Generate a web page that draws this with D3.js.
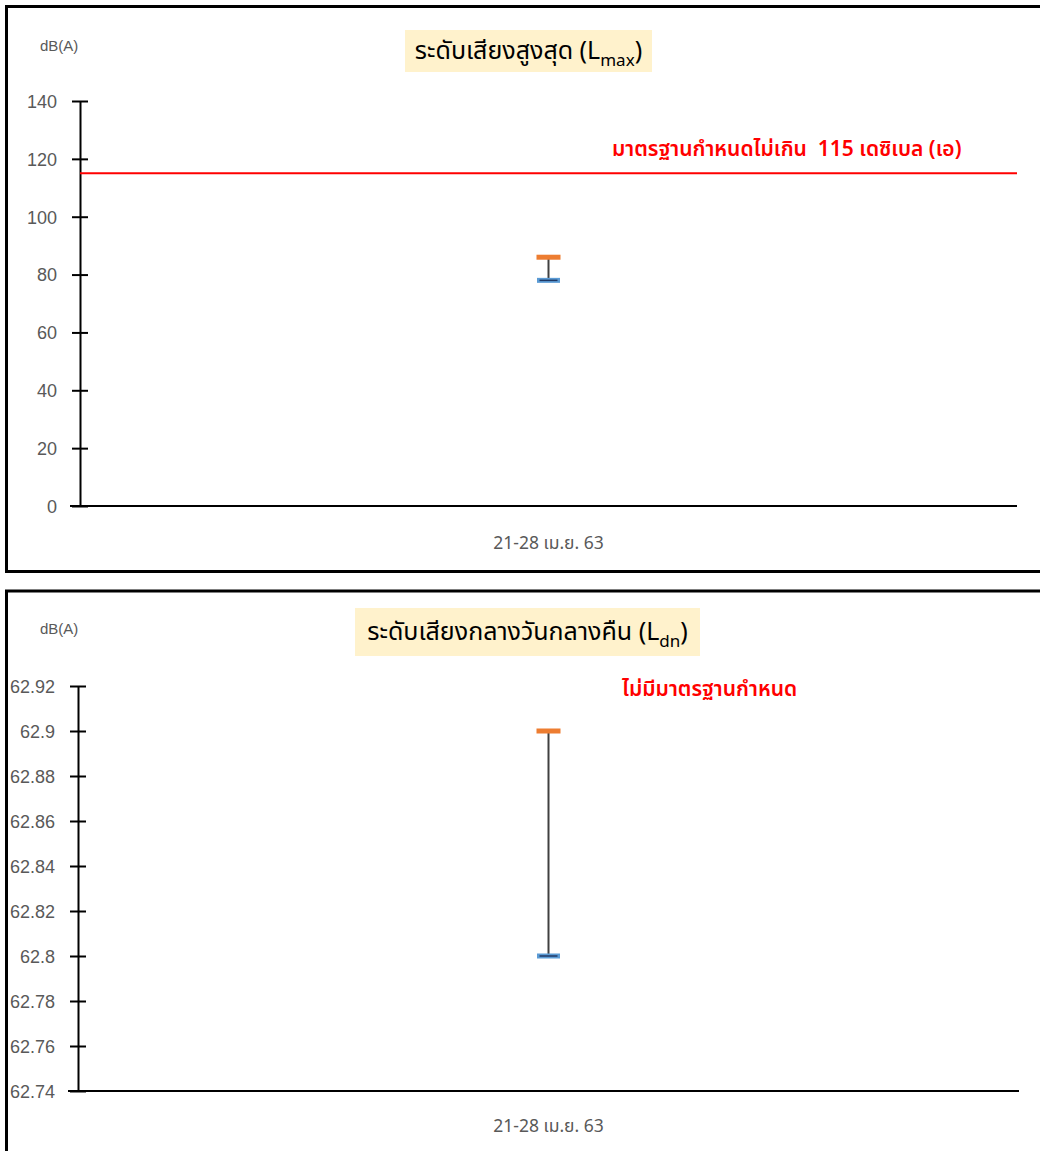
<!DOCTYPE html>
<html>
<head>
<meta charset="utf-8">
<script src="https://cdn.jsdelivr.net/npm/d3@7"></script>
<style>
  html, body { margin: 0; padding: 0; background: #fff; }
  svg { display: block; }
  .tick text { font-family: "Liberation Sans", Arial, sans-serif; }
</style>
</head>
<body>
<svg id="chart" width="1040" height="1151"></svg>
<script>
// ---- data ----
const categories = ["21-28 เม.ย. 63"];
const lmaxHigh = [86];
const lmaxLow = [78];
const lmaxTicks = [0, 20, 40, 60, 80, 100, 120, 140];
const lmaxStandard = 115;
const lmaxStandardLabel = "มาตรฐานกำหนดไม่เกิน\u00A0\u00A0115 เดซิเบล (เอ)";
const ldnHigh = [62.9];
const ldnLow = [62.8];
const ldnTicks = [62.74, 62.76, 62.78, 62.8, 62.82, 62.84, 62.86, 62.88, 62.9, 62.92];
const ldnStandardLabel = "ไม่มีมาตรฐานกำหนด";
const unitLabel = "dB(A)";

const svg = d3.select("#chart");
const thaiFont = "'Noto Sans Thai', 'Noto Sans', 'DejaVu Sans', sans-serif";

function panel(cfg) {
  const g = svg.append("g");
  // frame
  g.append("rect")
    .attr("x", 6.5).attr("y", cfg.frameTop)
    .attr("width", 1040).attr("height", cfg.frameH)
    .attr("fill", "none").attr("stroke", "#000").attr("stroke-width", 3);

  const x = d3.scaleBand().domain(categories).range([cfg.x0, cfg.x1]);
  const y = d3.scaleLinear().domain(cfg.domain).range([cfg.yBottom, cfg.yTop]);

  // y axis
  const yAxis = d3.axisLeft(y).tickValues(cfg.ticks).tickSize(0).tickPadding(0)
    .tickFormat(cfg.fmt);
  const ya = g.append("g").attr("transform", `translate(${cfg.x0},0)`).call(yAxis);
  ya.select(".domain").attr("stroke", "#000").attr("stroke-width", 2);
  ya.selectAll(".tick line").remove();
  ya.selectAll(".tick").append("line")
    .attr("x1", -8).attr("x2", 8).attr("stroke", "#000").attr("stroke-width", 2);
  ya.selectAll(".tick text")
    .attr("x", cfg.labelX - cfg.x0)
    .attr("fill", "#595959").attr("font-size", 18)
    .attr("text-anchor", "end").attr("dy", "0.35em");

  // x axis
  const xAxis = d3.axisBottom(x).tickSize(0).tickPadding(0);
  const xa = g.append("g").attr("transform", `translate(0,${cfg.yBottom})`).call(xAxis);
  xa.select(".domain").attr("stroke", "#000").attr("stroke-width", 2.2)
    .attr("d", `M${cfg.x0 - 10},0H${cfg.x1}`);
  xa.selectAll(".tick text")
    .attr("y", cfg.xLabelDy).attr("dy", 0)
    .attr("fill", "#595959").attr("font-size", 17.5)
    .style("font-family", thaiFont);

  // unit label
  g.append("text").attr("x", 40).attr("y", cfg.unitY)
    .attr("font-size", 15).attr("fill", "#595959")
    .style("font-family", "'Liberation Sans', Arial, sans-serif")
    .text(unitLabel);

  // title box
  g.append("rect").attr("x", cfg.titleBox[0]).attr("y", cfg.titleBox[1])
    .attr("width", cfg.titleBox[2]).attr("height", cfg.titleBox[3]).attr("fill", "#FFF2CC");
  const t = g.append("text")
    .attr("x", cfg.titleBox[0] + cfg.titleBox[2] / 2)
    .attr("y", cfg.titleBox[1] + cfg.titleBox[3] / 2 + 8)
    .attr("text-anchor", "middle").attr("font-size", 25).attr("fill", "#000")
    .style("font-family", thaiFont);
  t.append("tspan").text(cfg.title);
  t.append("tspan").attr("font-size", 17).attr("dy", 7).text(cfg.sub);
  t.append("tspan").attr("dy", -7).text(")");

  // standard
  if (cfg.standard != null) {
    g.append("line").attr("x1", cfg.x0).attr("x2", cfg.x1)
      .attr("y1", y(cfg.standard)).attr("y2", y(cfg.standard))
      .attr("stroke", "#FF0000").attr("stroke-width", 2);
  }
  g.append("text").attr("x", cfg.stdX).attr("y", cfg.stdY)
    .attr("fill", "#FF0000").attr("font-size", 21).attr("font-weight", 600)
    .style("font-family", thaiFont)
    .text(cfg.stdLabel);

  // hi-lo marks
  const cx = d => x(d) + x.bandwidth() / 2;
  g.selectAll(".hl").data(categories).join("line")
    .attr("x1", cx).attr("x2", cx)
    .attr("y1", (d, i) => y(cfg.high[i])).attr("y2", (d, i) => y(cfg.low[i]))
    .attr("stroke", "#404040").attr("stroke-width", 2);
  g.selectAll(".hi").data(categories).join("rect")
    .attr("x", d => cx(d) - 12).attr("width", 24)
    .attr("y", (d, i) => y(cfg.high[i]) - 2.5).attr("height", 5)
    .attr("fill", "#ED7D31");
  g.selectAll(".lo").data(categories).join("rect")
    .attr("x", d => cx(d) - 11.5).attr("width", 23)
    .attr("y", (d, i) => y(cfg.low[i]) - 2.5).attr("height", 5)
    .attr("fill", "#5B9BD5");
  g.selectAll(".lo2").data(categories).join("line")
    .attr("x1", d => cx(d) - 9).attr("x2", d => cx(d) + 9)
    .attr("y1", (d, i) => y(cfg.low[i])).attr("y2", (d, i) => y(cfg.low[i]))
    .attr("stroke", "#1F3864").attr("stroke-width", 1.5);
}

panel({
  frameTop: 6.5, frameH: 565,
  x0: 80, x1: 1017, yTop: 101, yBottom: 506, domain: [0, 140],
  ticks: lmaxTicks, fmt: d3.format("d"), labelX: 57, xLabelDy: 43,
  unitY: 51, titleBox: [405, 30, 247, 42],
  title: "ระดับเสียงสูงสุด (L", sub: "max",
  standard: lmaxStandard, stdLabel: lmaxStandardLabel, stdX: 612, stdY: 156,
  high: lmaxHigh, low: lmaxLow
});

panel({
  frameTop: 591, frameH: 600,
  x0: 78, x1: 1019, yTop: 686, yBottom: 1091, domain: [62.74, 62.92],
  ticks: ldnTicks, fmt: d => +d.toFixed(2) + "", labelX: 55, xLabelDy: 41,
  unitY: 634, titleBox: [355, 608, 345, 48],
  title: "ระดับเสียงกลางวันกลางคืน (L", sub: "dn",
  standard: null, stdLabel: ldnStandardLabel, stdX: 622, stdY: 696,
  high: ldnHigh, low: ldnLow
});
</script>
</body>
</html>
